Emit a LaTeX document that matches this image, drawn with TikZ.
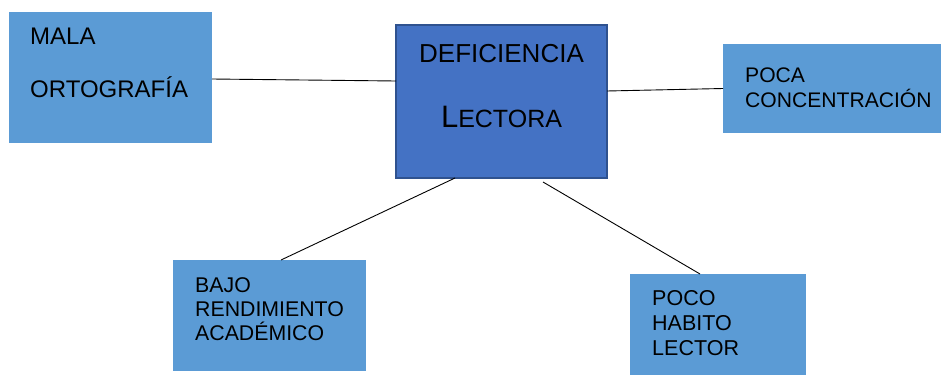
\documentclass[tikz,border=0pt]{standalone}
\usepackage{fontspec}
\setmainfont{Liberation Sans}
\definecolor{cajaazul}{HTML}{5B9BD5}
\definecolor{centroazul}{HTML}{4472C4}
\definecolor{bordeazul}{HTML}{2F528F}

\begin{document}
\begin{tikzpicture}[x=1pt,y=-1pt,
  caja/.style={fill=cajaazul,anchor=north west,inner sep=0pt,outer sep=0pt},
  texto/.style={anchor=north west,inner sep=0pt,align=left}]
\useasboundingbox (0,0) rectangle (941,375);
% cajas
\node[caja,minimum width=203,minimum height=131](mala) at (9,12){};
\node[caja,fill=centroazul,draw=bordeazul,line width=1.5pt,
  minimum width=211,minimum height=153](def) at (396,25){};
\node[caja,minimum width=218,minimum height=89](poca) at (723,44){};
\node[caja,minimum width=193,minimum height=111](bajo) at (173,260){};
\node[caja,minimum width=176,minimum height=101](poco) at (630,274){};
% textos
\node[texto,font=\fontsize{24}{53}\selectfont](malatxt) at (30,28){MALA\\ORTOGRAF\'IA};
\node[anchor=north,inner sep=0pt,align=center,font=\fontsize{26}{65}\selectfont](deftxt)
  at (501.5,43.7){DEFICIENCIA\\{\fontsize{31}{65}\selectfont L}{\fontsize{25}{65}\selectfont ECTORA}};
\node[texto,font=\fontsize{21.1}{25}\selectfont](pocatxt) at (745,68){POCA\\CONCENTRACI\'ON};
\node[texto,font=\fontsize{21.3}{24.3}\selectfont](bajotxt) at (195,277){BAJO\\RENDIMIENTO\\ACAD\'EMICO};
\node[texto,font=\fontsize{21.5}{25}\selectfont](pocotxt) at (652,290){POCO\\HABITO\\LECTOR};
% lineas
\draw[line width=0.9pt] ([yshift=-1.5pt]mala.east) -- ([yshift=20.5pt]def.west);
\draw[line width=0.9pt] ([yshift=10.5pt]def.east) -- (poca.west);
\draw[line width=0.9pt] ([xshift=-46.5pt]def.south) -- ([xshift=11.5pt]bajo.north);
\draw[line width=0.9pt] ([xshift=41.5pt,yshift=-4pt]def.south) -- ([xshift=-18pt]poco.north);
\end{tikzpicture}
\end{document}
